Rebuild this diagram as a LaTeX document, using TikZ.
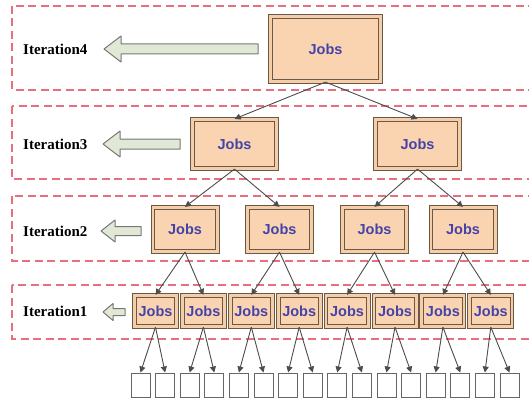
\documentclass[tikz,border=0pt]{standalone}
\usepackage{fontspec}
\setmainfont{Liberation Serif}
\newfontfamily\jobfont{Liberation Sans}
\usetikzlibrary{arrows.meta}

\definecolor{peach}{HTML}{FAD4B0}
\definecolor{boxedge}{HTML}{6A5848}
\definecolor{bandred}{HTML}{E8707E}
\definecolor{jobblue}{HTML}{4444A8}
\definecolor{arrowfill}{HTML}{E2E8D6}
\definecolor{arrowedge}{HTML}{777777}

\tikzset{
  job/.style={draw=boxedge, line width=1pt, double=peach!92!brown, double distance=2.8pt,
    fill=peach, inner sep=0pt, text=jobblue,
    font=\jobfont\bfseries\fontsize{14.5}{14.5}\selectfont},
  leaf/.style={draw=black!60, line width=1pt, fill=white,
    minimum width=19pt, minimum height=24pt, inner sep=0pt},
  band/.style={draw=bandred, line width=1.5pt, dash pattern=on 8pt off 4.5pt},
  link/.style={draw=black!70, line width=0.9pt, -{Triangle[length=6pt,width=6pt]}},
  iterlabel/.style={anchor=west, inner sep=0pt,
    font=\bfseries\fontsize{15}{15}\selectfont},
  blockarrow/.style={draw=arrowedge, fill=arrowfill, line width=1pt, line join=round}
}

%% hollow arrow pointing left: tip x, tail x, y, half head, head length, half shaft
\def\leftblock#1#2#3#4#5#6{%
  \draw[blockarrow] (#1,#3) -- ({#1+#5},{#3-#4}) -- ({#1+#5},{#3-#6})
    -- (#2,{#3-#6}) -- (#2,{#3+#6}) -- ({#1+#5},{#3+#6})
    -- ({#1+#5},{#3+#4}) -- cycle;}

\begin{document}
\begin{tikzpicture}[x=1pt, y=-1pt]
    \useasboundingbox (0,0) rectangle (529,401);
    \clip (0,0) rectangle (529,401);

    %% dashed bands
    \draw[band] (12,6) rectangle (540,90);
    \draw[band] (12,106) rectangle (540,179);
    \draw[band] (12,196) rectangle (540,261);
    \draw[band] (12,285) rectangle (540,339);

    %% iteration labels
    \node[iterlabel] (it4) at (23,49) {Iteration4};
    \node[iterlabel] (it3) at (23,144) {Iteration3};
    \node[iterlabel] (it2) at (23,231) {Iteration2};
    \node[iterlabel] (it1) at (23,311) {Iteration1};

    %% hollow arrows
    \leftblock{104}{258}{49}{13}{17}{5}
    \leftblock{103}{180}{144}{13}{17}{5}
    \leftblock{101}{141}{231}{11}{14}{4.5}
    \leftblock{103}{125}{312}{8.5}{10}{3.5}

    %% job boxes
    \node[job, minimum width=110.2pt, minimum height=65.2pt] (j4) at (325.5,49) {Jobs};

    \node[job, minimum width=84.2pt, minimum height=49.2pt] (j3-1) at (234.5,144) {Jobs};
    \node[job, minimum width=84.2pt, minimum height=49.2pt] (j3-2) at (417.5,144) {Jobs};

    \foreach \i/\x in {1/185, 2/279.5, 3/374.5, 4/463}
      \node[job, minimum width=64.2pt, minimum height=44.2pt] (j2-\i) at (\x,229.5) {Jobs};

    \foreach \i in {1,...,8}
      \node[job, minimum width=42.2pt, minimum height=31.2pt] (j1-\i) at ({155.5+47.9*(\i-1)},311) {Jobs};

    %% leaves
    \foreach \k in {1,...,16}
      \node[leaf] (leaf-\k) at ({140.5+24.6*(\k-1)},385) {};

    %% links
    \draw[link] (j4.south) -- (j3-1.north);
    \draw[link] (j4.south) -- (j3-2.north);
    \foreach \i [evaluate=\i as \p using {int((\i+1)/2)}] in {1,...,4}
      \draw[link] (j3-\p.south) -- (j2-\i.north);
    \foreach \i [evaluate=\i as \p using {int((\i+1)/2)}] in {1,...,8}
      \draw[link] (j2-\p.south) -- (j1-\i.north);
    \foreach \k [evaluate=\k as \p using {int((\k+1)/2)}] in {1,...,16}
      \draw[link] (j1-\p.south) -- (leaf-\k.north);
\end{tikzpicture}
\end{document}
